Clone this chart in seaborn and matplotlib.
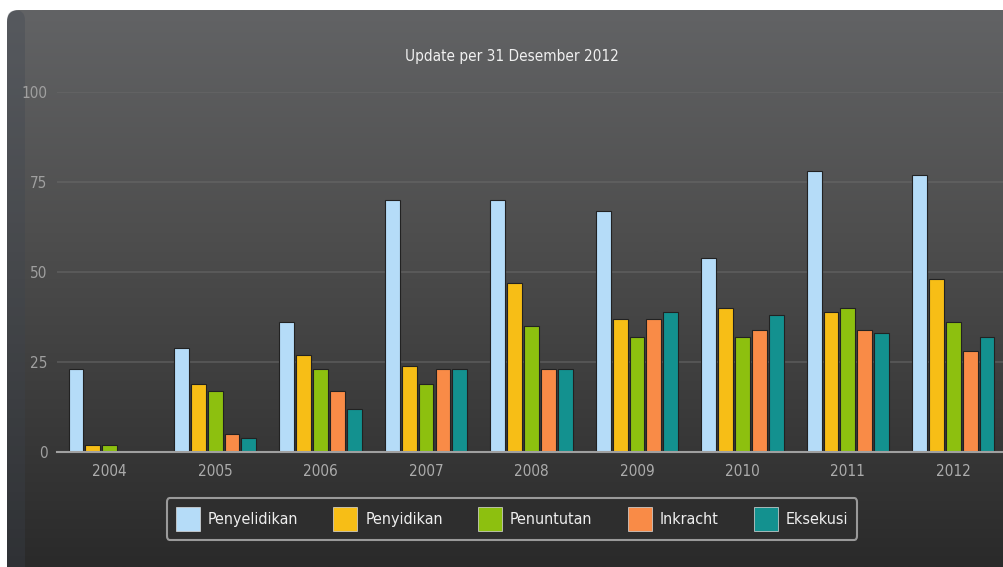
import numpy as np
import pandas as pd
import matplotlib
matplotlib.use("Agg")
import matplotlib.pyplot as plt
import seaborn as sns
from matplotlib.patches import FancyBboxPatch

years = ["2004", "2005", "2006", "2007", "2008", "2009", "2010", "2011", "2012"]
series_names = ["Penyelidikan", "Penyidikan", "Penuntutan", "Inkracht", "Eksekusi"]
penyelidikan = [23, 29, 36, 70, 70, 67, 54, 78, 77]
penyidikan = [2, 19, 27, 24, 47, 37, 40, 39, 48]
penuntutan = [2, 17, 23, 19, 35, 32, 32, 40, 36]
inkracht = [0, 5, 17, 23, 23, 37, 34, 34, 28]
eksekusi = [0, 4, 12, 23, 23, 39, 38, 33, 32]
title_text = "Update per 31 Desember 2012"
y_ticks = [0, 25, 50, 75, 100]
colors = ["#b5dcf8", "#f7be16", "#8dc00f", "#f98b47", "#13918f"]

df = pd.DataFrame({
    "Tahun": years * 5,
    "Tahap": sum([[n] * len(years) for n in series_names], []),
    "Jumlah": penyelidikan + penyidikan + penuntutan + inkracht + eksekusi,
})

sns.set_style("dark")
plt.rcParams["font.family"] = ["DejaVu Sans"]
plt.rcParams["font.stretch"] = "condensed"

W, H = 1004, 567
fig = plt.figure(figsize=(W / 100, H / 100), dpi=100, facecolor="white")

# background gradient panel with rounded corner
bg = fig.add_axes([0, 0, 1, 1])
bg.set_xlim(0, W)
bg.set_ylim(H, 0)
bg.axis("off")
top = np.array([0x62, 0x63, 0x65]) / 255
mid = np.array([0x4e, 0x4e, 0x4e]) / 255
bot = np.array([0x2a, 0x2a, 0x2a]) / 255
cols = np.zeros((256, 1, 3))
for i, t in enumerate(np.linspace(0, 1, 256)):
    if t < 0.4:
        c = top + (mid - top) * (t / 0.4)
    else:
        c = mid + (bot - mid) * ((t - 0.4) / 0.6)
    cols[i, 0, :] = c
im = bg.imshow(cols, extent=[7, W + 20, H, 10], aspect="auto", zorder=0)
clip = FancyBboxPatch((7, 10), W + 40, H + 40, boxstyle="round,pad=0,rounding_size=12",
                      transform=bg.transData, facecolor="none", edgecolor="none")
bg.add_patch(clip)
im.set_clip_path(clip)
strip = FancyBboxPatch((7, 10), 18, H, boxstyle="round,pad=0,rounding_size=10",
                       facecolor="#3c4450", edgecolor="none", alpha=0.3, zorder=1)
bg.add_patch(strip)

ax = fig.add_axes([57 / W, 1 - 452 / H, 1 - 57 / W + 0.002, (452 - 92) / H])
ax.set_facecolor("none")
sns.barplot(data=df, x="Tahun", y="Jumlah", hue="Tahap", hue_order=series_names,
            order=years, palette=colors, width=0.8, gap=0.12, ax=ax,
            edgecolor="#222222", linewidth=0.8, saturation=1, legend=True)

ax.set_ylim(0, 100)
ax.set_xlim(-0.5, len(years) - 0.5)
ax.set_yticks(y_ticks)
ax.set_yticklabels([str(v) for v in y_ticks], color="#a0a0a0", fontsize=11)
ax.tick_params(axis="y", length=0, pad=7)
ax.set_xticks(range(len(years)))
ax.set_xticklabels(years, color="#acacac", fontsize=11)
ax.tick_params(axis="x", which="major", length=0, pad=9)
ax.set_xticks(np.arange(0.5, len(years) - 0.5, 1), minor=True)
ax.tick_params(axis="x", which="minor", length=8, width=1, color="#9a9a9a", direction="out")
ax.set_xlabel("")
ax.set_ylabel("")
for v in y_ticks[1:]:
    ax.axhline(v, color="#6a6a6a", lw=1.2, alpha=0.6, zorder=0)
ax.grid(False)
for s in ["top", "right", "left"]:
    ax.spines[s].set_visible(False)
ax.spines["bottom"].set_color("#a0a0a0")
ax.spines["bottom"].set_linewidth(1.5)

fig.text(512 / W, 1 - 57 / H, title_text, color="#f0f0f0", fontsize=11,
         ha="center", va="center")

handles, labels = ax.get_legend_handles_labels()
ax.get_legend().remove()
leg = fig.legend(handles, labels, loc="center", bbox_to_anchor=(512 / W, 1 - 519 / H),
                 ncol=5, frameon=True, fontsize=11.5, handlelength=1.5, handleheight=1.9,
                 columnspacing=2.2, handletextpad=0.5, borderpad=0.55,
                 labelcolor="#eeeeee", fancybox=True)
leg.get_frame().set_facecolor("#2e2e2e")
leg.get_frame().set_edgecolor("#9a9a9a")
leg.get_frame().set_linewidth(1.5)
leg.get_frame().set_alpha(1)
for h in leg.legend_handles:
    h.set_edgecolor("#dddddd")
    h.set_linewidth(0.5)

fig.savefig("out.png", dpi=100, facecolor="white")
